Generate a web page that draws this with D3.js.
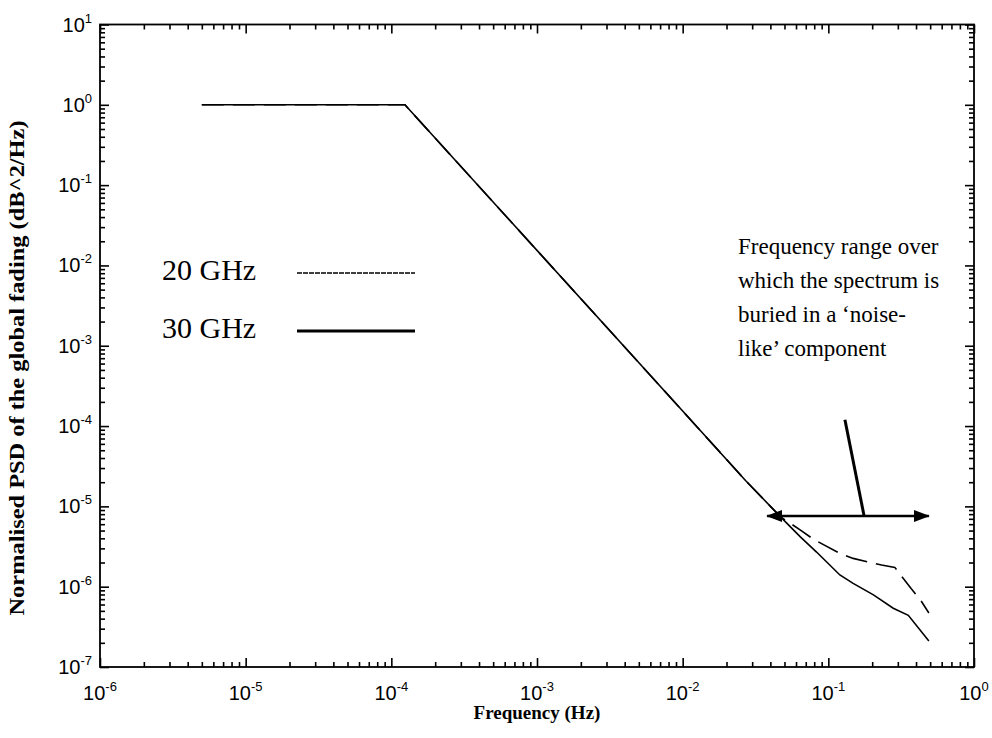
<!DOCTYPE html>
<html>
<head>
<meta charset="utf-8">
<script src="https://cdn.jsdelivr.net/npm/d3@7"></script>
<style>
body { margin: 0; background: #fff; }
text { fill: #000; }
</style>
</head>
<body>
<svg id="chart" width="992" height="738"></svg>
<script>
// data
var freq20 = [5e-6, 1.24e-4, 1e-3, 1e-2, 0.027, 0.047, 0.064, 0.079, 0.12, 0.148, 0.232, 0.286, 0.37, 0.43, 0.49],
	psd20 = [1, 1, 1.54e-2, 1.54e-4, 2.1e-5, 7.4e-6, 5.1e-6, 3.9e-6, 2.6e-6, 2.25e-6, 1.86e-6, 1.74e-6, 9.5e-7, 6.8e-7, 4.7e-7];
var freq30 = [5e-6, 1.24e-4, 1e-3, 1e-2, 0.027, 0.047, 0.064, 0.083, 0.12, 0.148, 0.204, 0.279, 0.354, 0.49],
	psd30 = [1, 1, 1.54e-2, 1.54e-4, 2.1e-5, 7.4e-6, 4.2e-6, 2.7e-6, 1.4e-6, 1.1e-6, 7.9e-7, 5.4e-7, 4.4e-7, 2.1e-7];
var xExponents = [-6, -5, -4, -3, -2, -1, 0],
	yExponents = [-7, -6, -5, -4, -3, -2, -1, 0, 1];
var seriesNames = ["20 GHz", "30 GHz"];
var noteLines = ["Frequency range over", "which the spectrum is", "buried in a \u2018noise-", "like\u2019 component"];
var rangeFreq = [0.038, 0.49], rangePsd = 7.6e-6;
var pointerFreq = [0.13, 0.176], pointerPsd = [1.2e-4, 7.6e-6];

// layout
var W = 992, H = 738,
	margin = {top: 24.5, right: 18, bottom: 71, left: 100},
	w = W - margin.left - margin.right,
	h = H - margin.top - margin.bottom,
	majorLen = 9,
	minorLen = 5,
	sansFont = "'Liberation Sans', Arial, Helvetica, sans-serif",
	serifFont = "'Liberation Serif', 'Times New Roman', Times, serif";

var svg = d3.select("#chart");
var g = svg.append("g").attr("transform", "translate(" + margin.left + "," + margin.top + ")");

var x = d3.scaleLog().domain([1e-6, 1]).range([0, w]);
var y = d3.scaleLog().domain([1e-7, 10]).range([h, 0]);

function isPower(d) { return Math.abs(Math.log10(d) - Math.round(Math.log10(d))) < 1e-9; }
var xMinor = x.ticks().filter(function(d) { return !isPower(d); });
var yMinor = y.ticks().filter(function(d) { return !isPower(d); });
var xMajor = xExponents.map(function(e) { return Math.pow(10, e); });
var yMajor = yExponents.map(function(e) { return Math.pow(10, e); });

// inward ticks on all four sides
function addTicks(axisFn, scale, values, len, transform) {
	g.append("g")
		.attr("transform", transform)
		.call(axisFn(scale).tickValues(values).tickSize(len).tickFormat(""))
		.call(function(a) {
			a.select(".domain").remove();
			a.selectAll("line").attr("stroke", "#000").attr("stroke-width", 1.6);
		});
}
addTicks(d3.axisTop, x, xMinor, minorLen, "translate(0," + h + ")");
addTicks(d3.axisTop, x, xMajor, majorLen, "translate(0," + h + ")");
addTicks(d3.axisBottom, x, xMinor, minorLen, "translate(0,0)");
addTicks(d3.axisBottom, x, xMajor, majorLen, "translate(0,0)");
addTicks(d3.axisRight, y, yMinor, minorLen, "translate(0,0)");
addTicks(d3.axisRight, y, yMajor, majorLen, "translate(0,0)");
addTicks(d3.axisLeft, y, yMinor, minorLen, "translate(" + w + ",0)");
addTicks(d3.axisLeft, y, yMajor, majorLen, "translate(" + w + ",0)");

// frame
g.append("rect")
	.attr("width", w)
	.attr("height", h)
	.attr("fill", "none")
	.attr("stroke", "#000")
	.attr("stroke-width", 1.8);

// tick labels 10^n
function powerLabel(sel) {
	sel.append("tspan").text("10");
	sel.append("tspan")
		.attr("font-size", 13)
		.attr("dy", -9)
		.text(function(d) { return d; });
}
g.selectAll("text.xlab")
	.data(xExponents)
	.enter().append("text")
	.attr("class", "xlab")
	.attr("x", function(d) { return x(Math.pow(10, d)); })
	.attr("y", h + 33)
	.attr("text-anchor", "middle")
	.attr("font-family", sansFont)
	.attr("font-size", 20)
	.call(powerLabel);

g.selectAll("text.ylab")
	.data(yExponents)
	.enter().append("text")
	.attr("class", "ylab")
	.attr("x", -8)
	.attr("y", function(d) { return y(Math.pow(10, d)) + 7; })
	.attr("text-anchor", "end")
	.attr("font-family", sansFont)
	.attr("font-size", 20)
	.call(powerLabel);

// axis titles
svg.append("text")
	.attr("x", margin.left + w / 2)
	.attr("y", H - 19)
	.attr("text-anchor", "middle")
	.attr("font-family", serifFont)
	.attr("font-weight", "bold")
	.attr("font-size", 19)
	.text("Frequency (Hz)");

svg.append("text")
	.attr("transform", "translate(24,368) rotate(-90)")
	.attr("text-anchor", "middle")
	.attr("font-family", serifFont)
	.attr("font-weight", "bold")
	.attr("font-size", 21)
	.attr("textLength", 495)
	.attr("lengthAdjust", "spacingAndGlyphs")
	.text("Normalised PSD of the global fading (dB^2/Hz)");

// curves
var line = d3.line()
	.x(function(d) { return x(d[0]); })
	.y(function(d) { return y(d[1]); });

g.append("path")
	.datum(d3.zip(freq30, psd30))
	.attr("fill", "none")
	.attr("stroke", "#000")
	.attr("stroke-width", 1.6)
	.attr("d", line);

g.append("path")
	.datum(d3.zip(freq20, psd20))
	.attr("fill", "none")
	.attr("stroke", "#000")
	.attr("stroke-width", 1.6)
	.attr("stroke-dasharray", "22,9")
	.attr("d", line);

// legend
var legend = svg.append("g");
seriesNames.forEach(function(name, i) {
	var ly = 273 + i * 58;
	legend.append("text")
		.attr("x", 162)
		.attr("y", ly + 7)
		.attr("font-family", serifFont)
		.attr("font-size", 30)
		.text(name);
	legend.append("line")
		.attr("x1", 297).attr("x2", 415)
		.attr("y1", ly).attr("y2", ly)
		.attr("stroke", "#000")
		.attr("stroke-width", i == 0 ? 1.5 : 2.8)
		.attr("stroke-dasharray", i == 0 ? "5,1" : null);
});

// annotation
var note = svg.append("text")
	.attr("font-family", serifFont)
	.attr("font-size", 23);
note.selectAll("tspan")
	.data(noteLines)
	.enter().append("tspan")
	.attr("x", 738)
	.attr("y", function(d, i) { return 254 + i * 34; })
	.text(function(d) { return d; });

var defs = svg.append("defs");
defs.append("marker")
	.attr("id", "head")
	.attr("viewBox", "0 0 16 12")
	.attr("refX", 15)
	.attr("refY", 6)
	.attr("markerWidth", 16)
	.attr("markerHeight", 12)
	.attr("markerUnits", "userSpaceOnUse")
	.attr("orient", "auto-start-reverse")
	.append("path")
	.attr("d", "M0,0L16,6L0,12Z")
	.attr("fill", "#000");

g.append("line")
	.attr("x1", x(rangeFreq[0])).attr("x2", x(rangeFreq[1]))
	.attr("y1", y(rangePsd)).attr("y2", y(rangePsd))
	.attr("stroke", "#000")
	.attr("stroke-width", 2.4)
	.attr("marker-start", "url(#head)")
	.attr("marker-end", "url(#head)");

g.append("line")
	.attr("x1", x(pointerFreq[0])).attr("x2", x(pointerFreq[1]))
	.attr("y1", y(pointerPsd[0])).attr("y2", y(pointerPsd[1]))
	.attr("stroke", "#000")
	.attr("stroke-width", 3);
</script>
</body>
</html>
